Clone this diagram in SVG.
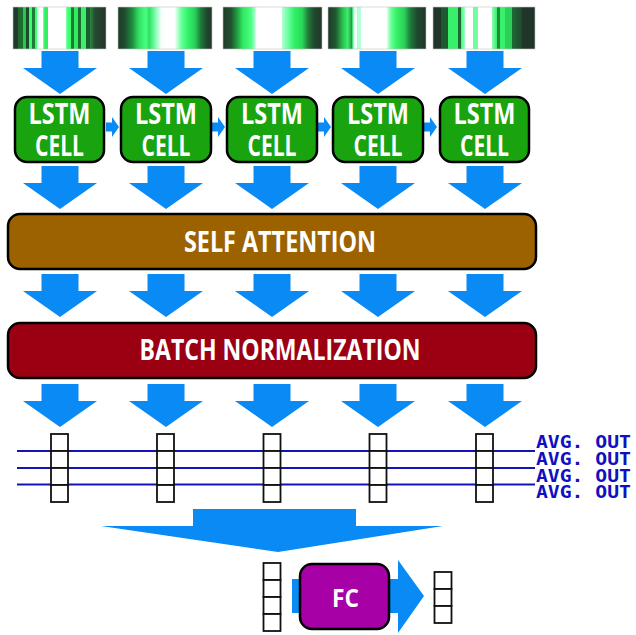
<svg xmlns="http://www.w3.org/2000/svg" xmlns:xlink="http://www.w3.org/1999/xlink" width="636" height="635" viewBox="0 0 636 635">
  <style>
    .strip { stroke: #c4c4c4; stroke-width: 0.6; }
    .cell { fill: #19a30f; stroke: #000; stroke-width: 2.5; }
    .band { stroke: #000; stroke-width: 2.5; }
    .lbl { font-family: "Open Sans", "Noto Sans", "Liberation Sans", sans-serif; font-weight: 700; fill: #fff; text-anchor: middle; }
    .flow { fill: #0a8af5; }
    .vec { fill: #fff; stroke: #111; stroke-width: 1.8; }
    .track { stroke: #1414b4; stroke-width: 2; fill: none; }
    .avg { font-family: "DejaVu Sans Mono", "Liberation Mono", monospace; font-weight: 700; font-size: 17px; fill: #1010c0; }
  </style>
  <defs>
    <!-- down-pointing block arrow, origin at top centre of shaft -->
    <path id="down" d="M-18.5,0 H18.5 V17 H37 L0,43 L-37,17 H-18.5 Z"/>
    <!-- small right arrow between recurrent cells -->
    <path id="right" d="M0,-4.5 H6 V-10 L13,0 L6,10 V4.5 H0 Z"/>
    <!-- 17px vector cell -->
    <rect id="sq" width="17" height="17"/>

    <linearGradient id="g1" x1="0" x2="1" y1="0" y2="0">
      <stop offset="0" stop-color="#223a2a"/><stop offset="0.054" stop-color="#223a2a"/>
      <stop offset="0.054" stop-color="#1d6b30"/><stop offset="0.108" stop-color="#1d6b30"/>
      <stop offset="0.108" stop-color="#2bc650"/><stop offset="0.144" stop-color="#2bc650"/>
      <stop offset="0.144" stop-color="#1c4a2a"/><stop offset="0.169" stop-color="#1c4a2a"/>
      <stop offset="0.169" stop-color="#3cff70"/><stop offset="0.205" stop-color="#3cff70"/>
      <stop offset="0.205" stop-color="#1e7a36"/><stop offset="0.234" stop-color="#1e7a36"/>
      <stop offset="0.234" stop-color="#40ff78"/><stop offset="0.263" stop-color="#40ff78"/>
      <stop offset="0.263" stop-color="#c8ffdc"/><stop offset="0.288" stop-color="#ffffff"/>
      <stop offset="0.324" stop-color="#ffffff"/><stop offset="0.324" stop-color="#8affb0"/>
      <stop offset="0.342" stop-color="#30f060"/><stop offset="0.378" stop-color="#30f060"/>
      <stop offset="0.378" stop-color="#ffffff"/><stop offset="0.565" stop-color="#ffffff"/>
      <stop offset="0.565" stop-color="#a0ffc0"/><stop offset="0.594" stop-color="#3cff70"/>
      <stop offset="0.629" stop-color="#3cff70"/><stop offset="0.629" stop-color="#1e7a36"/>
      <stop offset="0.655" stop-color="#1e7a36"/><stop offset="0.655" stop-color="#30ee60"/>
      <stop offset="0.701" stop-color="#30ee60"/><stop offset="0.701" stop-color="#1d6b30"/>
      <stop offset="0.73" stop-color="#1d6b30"/><stop offset="0.73" stop-color="#3af06a"/>
      <stop offset="0.78" stop-color="#3af06a"/><stop offset="0.78" stop-color="#1c5a30"/>
      <stop offset="0.827" stop-color="#1c5a30"/><stop offset="0.827" stop-color="#2a8a40"/>
      <stop offset="0.881" stop-color="#264a30"/><stop offset="1" stop-color="#22352a"/>
    </linearGradient>
    <linearGradient id="g2" x1="0" x2="1" y1="0" y2="0">
      <stop offset="0" stop-color="#1f3a28"/><stop offset="0.07" stop-color="#1e4e2e"/>
      <stop offset="0.15" stop-color="#1f8a3e"/><stop offset="0.22" stop-color="#30e060"/>
      <stop offset="0.30" stop-color="#48ff80"/><stop offset="0.33" stop-color="#2ee060"/>
      <stop offset="0.40" stop-color="#80ffb0"/><stop offset="0.45" stop-color="#e8fff0"/>
      <stop offset="0.48" stop-color="#ffffff"/><stop offset="0.60" stop-color="#ffffff"/>
      <stop offset="0.63" stop-color="#c0ffd8"/><stop offset="0.68" stop-color="#60ff90"/>
      <stop offset="0.75" stop-color="#30f068"/><stop offset="0.82" stop-color="#2ad058"/>
      <stop offset="0.88" stop-color="#1e7a3a"/><stop offset="0.94" stop-color="#1f4a2e"/>
      <stop offset="1" stop-color="#22362a"/>
    </linearGradient>
    <linearGradient id="g3" x1="0" x2="1" y1="0" y2="0">
      <stop offset="0" stop-color="#1f3a28"/><stop offset="0.08" stop-color="#23502f"/>
      <stop offset="0.14" stop-color="#1f9a40"/><stop offset="0.20" stop-color="#30e860"/>
      <stop offset="0.28" stop-color="#48ff80"/><stop offset="0.32" stop-color="#a0ffc8"/>
      <stop offset="0.34" stop-color="#ffffff"/><stop offset="0.59" stop-color="#ffffff"/>
      <stop offset="0.60" stop-color="#b0ffd0"/><stop offset="0.66" stop-color="#6affa0"/>
      <stop offset="0.72" stop-color="#30f068"/><stop offset="0.80" stop-color="#2ad858"/>
      <stop offset="0.86" stop-color="#227a3a"/><stop offset="0.92" stop-color="#1f4a2e"/>
      <stop offset="1" stop-color="#22362a"/>
    </linearGradient>
    <linearGradient id="g4" x1="0" x2="1" y1="0" y2="0">
      <stop offset="0" stop-color="#1f3a28"/><stop offset="0.08" stop-color="#1f5a30"/>
      <stop offset="0.15" stop-color="#2ac050"/><stop offset="0.20" stop-color="#38f06a"/>
      <stop offset="0.24" stop-color="#2a9a48"/><stop offset="0.255" stop-color="#5cffa0"/>
      <stop offset="0.27" stop-color="#e0fff0"/><stop offset="0.30" stop-color="#ffffff"/>
      <stop offset="0.30" stop-color="#b0ffd8"/><stop offset="0.34" stop-color="#b0ffd8"/>
      <stop offset="0.34" stop-color="#ffffff"/><stop offset="0.60" stop-color="#ffffff"/>
      <stop offset="0.61" stop-color="#c0ffd8"/><stop offset="0.65" stop-color="#60ff90"/>
      <stop offset="0.70" stop-color="#38f068"/><stop offset="0.78" stop-color="#2ad058"/>
      <stop offset="0.84" stop-color="#1e7a3a"/><stop offset="0.91" stop-color="#1f4a2e"/>
      <stop offset="1" stop-color="#22362a"/>
    </linearGradient>
    <linearGradient id="g5" x1="0" x2="1" y1="0" y2="0">
      <stop offset="0" stop-color="#22352a"/><stop offset="0.082" stop-color="#22352a"/>
      <stop offset="0.082" stop-color="#1e5a30"/><stop offset="0.148" stop-color="#1e5a30"/>
      <stop offset="0.148" stop-color="#38f06a"/><stop offset="0.246" stop-color="#38f06a"/>
      <stop offset="0.246" stop-color="#1e6a34"/><stop offset="0.279" stop-color="#1e6a34"/>
      <stop offset="0.279" stop-color="#40ff78"/><stop offset="0.311" stop-color="#a0ffc8"/>
      <stop offset="0.32" stop-color="#ffffff"/><stop offset="0.393" stop-color="#ffffff"/>
      <stop offset="0.393" stop-color="#70ffa0"/><stop offset="0.443" stop-color="#70ffa0"/>
      <stop offset="0.443" stop-color="#ffffff"/><stop offset="0.574" stop-color="#ffffff"/>
      <stop offset="0.574" stop-color="#90ffb8"/><stop offset="0.623" stop-color="#40f070"/>
      <stop offset="0.623" stop-color="#1e8a3a"/><stop offset="0.66" stop-color="#1e8a3a"/>
      <stop offset="0.66" stop-color="#38f06a"/><stop offset="0.705" stop-color="#38f06a"/>
      <stop offset="0.705" stop-color="#2ad058"/><stop offset="0.77" stop-color="#2ad058"/>
      <stop offset="0.77" stop-color="#1e6a34"/><stop offset="0.869" stop-color="#1f4a2e"/>
      <stop offset="0.869" stop-color="#22352a"/><stop offset="1" stop-color="#22352a"/>
    </linearGradient>
  </defs>

  <rect width="636" height="635" fill="#fff"/>

  <!-- input sequences -->
  <g id="input-1"><rect class="strip" x="13" y="7" width="93" height="42" fill="url(#g1)"/></g>
  <g id="input-2"><rect class="strip" x="118" y="7" width="94" height="42" fill="url(#g2)"/></g>
  <g id="input-3"><rect class="strip" x="223" y="7" width="99" height="42" fill="url(#g3)"/></g>
  <g id="input-4"><rect class="strip" x="328" y="7" width="98" height="42" fill="url(#g4)"/></g>
  <g id="input-5"><rect class="strip" x="433" y="7" width="102" height="42" fill="url(#g5)"/></g>

  <!-- connectors -->
  <g id="connectors" class="flow">
    <use xlink:href="#down" x="60" y="51"/>
    <use xlink:href="#down" x="166" y="51"/>
    <use xlink:href="#down" x="272" y="51"/>
    <use xlink:href="#down" x="378" y="51"/>
    <use xlink:href="#down" x="485" y="51"/>

    <use xlink:href="#right" x="106" y="127"/>
    <use xlink:href="#right" x="212" y="127"/>
    <use xlink:href="#right" x="318" y="127"/>
    <use xlink:href="#right" x="424" y="127"/>

    <use xlink:href="#down" x="60" y="166"/>
    <use xlink:href="#down" x="166" y="166"/>
    <use xlink:href="#down" x="272" y="166"/>
    <use xlink:href="#down" x="378" y="166"/>
    <use xlink:href="#down" x="485" y="166"/>

    <use xlink:href="#down" x="60" y="274"/>
    <use xlink:href="#down" x="166" y="274"/>
    <use xlink:href="#down" x="272" y="274"/>
    <use xlink:href="#down" x="378" y="274"/>
    <use xlink:href="#down" x="485" y="274"/>

    <use xlink:href="#down" x="60" y="384"/>
    <use xlink:href="#down" x="166" y="384"/>
    <use xlink:href="#down" x="272" y="384"/>
    <use xlink:href="#down" x="378" y="384"/>
    <use xlink:href="#down" x="485" y="384"/>

    <!-- averaging tracks -->
    <line class="track" x1="17" y1="451" x2="535" y2="451"/>
    <line class="track" x1="17" y1="468" x2="535" y2="468"/>
    <line class="track" x1="17" y1="484.5" x2="535" y2="484.5"/>

    <!-- merge into pooled vector -->
    <polygon points="193,509 356,509 356,526 443,526 278,552 101,526 193,526"/>
    <!-- through the dense layer -->
    <polygon points="292,579 398,579 398,560 424,596 398,633 398,613 292,613"/>
  </g>

  <!-- recurrent cells -->
  <g id="lstm-1"><rect class="cell" x="15" y="97" width="89" height="65" rx="12"/>
    <text class="lbl" x="59.5" y="124" font-size="29" textLength="62" lengthAdjust="spacingAndGlyphs">LSTM</text>
    <text class="lbl" x="59.5" y="156" font-size="29" textLength="49" lengthAdjust="spacingAndGlyphs">CELL</text></g>
  <g id="lstm-2"><rect class="cell" x="121" y="97" width="90" height="65" rx="12"/>
    <text class="lbl" x="166" y="124" font-size="29" textLength="62" lengthAdjust="spacingAndGlyphs">LSTM</text>
    <text class="lbl" x="166" y="156" font-size="29" textLength="49" lengthAdjust="spacingAndGlyphs">CELL</text></g>
  <g id="lstm-3"><rect class="cell" x="227" y="97" width="90" height="65" rx="12"/>
    <text class="lbl" x="272" y="124" font-size="29" textLength="62" lengthAdjust="spacingAndGlyphs">LSTM</text>
    <text class="lbl" x="272" y="156" font-size="29" textLength="49" lengthAdjust="spacingAndGlyphs">CELL</text></g>
  <g id="lstm-4"><rect class="cell" x="333" y="97" width="90" height="65" rx="12"/>
    <text class="lbl" x="378" y="124" font-size="29" textLength="62" lengthAdjust="spacingAndGlyphs">LSTM</text>
    <text class="lbl" x="378" y="156" font-size="29" textLength="49" lengthAdjust="spacingAndGlyphs">CELL</text></g>
  <g id="lstm-5"><rect class="cell" x="440" y="97" width="89" height="65" rx="12"/>
    <text class="lbl" x="484.5" y="124" font-size="29" textLength="62" lengthAdjust="spacingAndGlyphs">LSTM</text>
    <text class="lbl" x="484.5" y="156" font-size="29" textLength="49" lengthAdjust="spacingAndGlyphs">CELL</text></g>

  <!-- attention layer -->
  <g id="self-attention"><rect class="band" x="8" y="214" width="528" height="55" rx="12" fill="#9c6200"/>
    <text class="lbl" x="280" y="252" font-size="28" textLength="192" lengthAdjust="spacingAndGlyphs">SELF ATTENTION</text></g>

  <!-- normalisation layer -->
  <g id="batch-norm"><rect class="band" x="8" y="323" width="528" height="55" rx="12" fill="#9a0012"/>
    <text class="lbl" x="280" y="360" font-size="28" textLength="281" lengthAdjust="spacingAndGlyphs">BATCH NORMALIZATION</text></g>

  <!-- per-step output vectors -->
  <g id="vec-1" class="vec"><use xlink:href="#sq" x="51" y="434"/><use xlink:href="#sq" x="51" y="451"/><use xlink:href="#sq" x="51" y="468"/><use xlink:href="#sq" x="51" y="485"/></g>
  <g id="vec-2" class="vec"><use xlink:href="#sq" x="157" y="434"/><use xlink:href="#sq" x="157" y="451"/><use xlink:href="#sq" x="157" y="468"/><use xlink:href="#sq" x="157" y="485"/></g>
  <g id="vec-3" class="vec"><use xlink:href="#sq" x="263.5" y="434"/><use xlink:href="#sq" x="263.5" y="451"/><use xlink:href="#sq" x="263.5" y="468"/><use xlink:href="#sq" x="263.5" y="485"/></g>
  <g id="vec-4" class="vec"><use xlink:href="#sq" x="369.5" y="434"/><use xlink:href="#sq" x="369.5" y="451"/><use xlink:href="#sq" x="369.5" y="468"/><use xlink:href="#sq" x="369.5" y="485"/></g>
  <g id="vec-5" class="vec"><use xlink:href="#sq" x="476" y="434"/><use xlink:href="#sq" x="476" y="451"/><use xlink:href="#sq" x="476" y="468"/><use xlink:href="#sq" x="476" y="485"/></g>

  <g id="avg-labels">
    <text class="avg" x="536" y="448" textLength="95" lengthAdjust="spacingAndGlyphs">AVG. OUT</text>
    <text class="avg" x="536" y="465" textLength="95" lengthAdjust="spacingAndGlyphs">AVG. OUT</text>
    <text class="avg" x="536" y="481.5" textLength="95" lengthAdjust="spacingAndGlyphs">AVG. OUT</text>
    <text class="avg" x="536" y="498" textLength="95" lengthAdjust="spacingAndGlyphs">AVG. OUT</text>
  </g>

  <!-- pooled vector -->
  <g id="pooled" class="vec"><use xlink:href="#sq" x="263.5" y="563"/><use xlink:href="#sq" x="263.5" y="580"/><use xlink:href="#sq" x="263.5" y="597"/><use xlink:href="#sq" x="263.5" y="614"/></g>

  <!-- dense layer -->
  <g id="fc"><rect x="300" y="564" width="89" height="65" rx="12" fill="#a600a6" stroke="#000" stroke-width="2.5"/>
    <text class="lbl" x="345.5" y="607" font-size="25" textLength="27" lengthAdjust="spacingAndGlyphs">FC</text></g>

  <!-- output vector -->
  <g id="output" class="vec"><use xlink:href="#sq" x="434.5" y="572"/><use xlink:href="#sq" x="434.5" y="589"/><use xlink:href="#sq" x="434.5" y="606"/></g>
</svg>
